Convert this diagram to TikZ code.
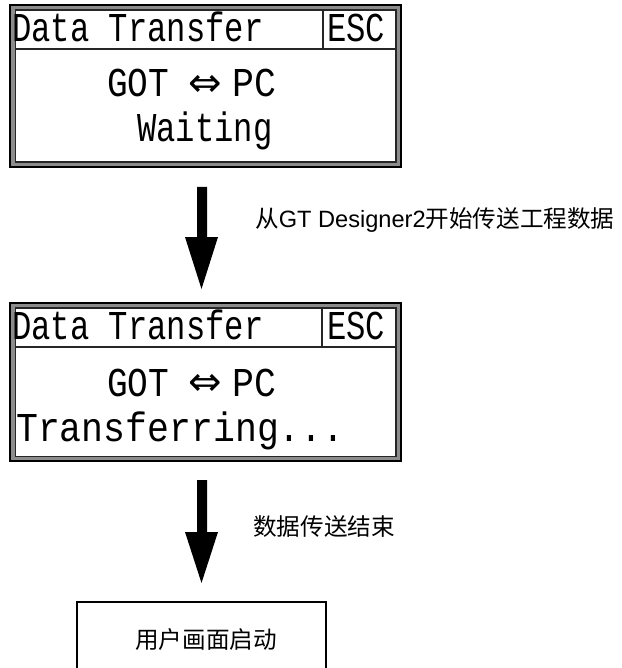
\documentclass[tikz,border=0pt]{standalone}
\usepackage{fontspec}
\setmainfont{Liberation Sans}
\newfontfamily\cjk{Noto Sans CJK SC}
\newfontfamily\lcd[FakeStretch=0.786]{Liberation Mono}
\newfontfamily\lcdwide[FakeStretch=0.84]{Liberation Mono}
\newfontfamily\lcdwider[FakeStretch=0.89]{Liberation Mono}
\newfontfamily\arrfont{DejaVu Sans}
\begin{document}
\begin{tikzpicture}[x=1pt,y=-1pt,
  lcdtxt/.style={inner sep=0pt,anchor=base west,font=\lcd\fontsize{41}{41}\selectfont},
  lcdwidetxt/.style={inner sep=0pt,anchor=base west,font=\lcdwide\fontsize{41}{41}\selectfont},
  lcdwidertxt/.style={inner sep=0pt,anchor=base west,font=\lcdwider\fontsize{41}{41}\selectfont},
  arrtxt/.style={inner sep=0pt,font=\arrfont\fontsize{40}{40}\selectfont},
  lbl/.style={inner sep=0pt,anchor=west,font=\fontsize{23.6}{23.6}\selectfont},
  outerframe/.style={draw=black,line width=2.5pt,fill=black!45},
  innerframe/.style={draw=black!85,line width=1.6pt,fill=white},
  sepline/.style={draw=black!85,line width=1.6pt},
  blockarrow/.style={fill=black},
  plainbox/.style={draw=black,line width=2pt}]
\useasboundingbox (0,0) rectangle (621,668);
\clip (0,0) rectangle (621,668);

% ---------- screen 1 ----------
\draw[outerframe] (10,5) rectangle (401,167);
\draw[innerframe] (15.5,10) rectangle (396,162);
\draw[sepline] (15.5,49) -- (396,49);
\draw[sepline] (323,10) -- (323,49);
\node[lcdtxt] (t1) at (12,42) {Data Transfer};
\node[lcdtxt] (e1) at (327,42) {ESC};
\node[lcdwidetxt] (g1) at (107,97) {GOT};
\node[arrtxt] (a1) at (205,86) {⇔};
\node[lcdwidertxt] (p1) at (232,97) {PC};
\node[lcdtxt] (w1) at (137,142) {Waiting};

% ---------- arrow 1 ----------
\fill[blockarrow] (197,187) -- (207,187) -- (207,237) -- (218,237) -- (201.5,289) -- (185,237) -- (197,237) -- cycle;
\node[lbl] (l1) at (255,220) {{\cjk 从}GT Designer2{\cjk 开始传送工程数据}};

% ---------- screen 2 ----------
\draw[outerframe] (10,303) rectangle (401,461);
\draw[innerframe] (15.5,308) rectangle (396,456.5);
\draw[sepline] (15.5,347) -- (396,347);
\draw[sepline] (322,308) -- (322,347);
\node[lcdtxt] (t2) at (12,339) {Data Transfer};
\node[lcdtxt] (e2) at (327,339) {ESC};
\node[lcdwidetxt] (g2) at (107,396) {GOT};
\node[arrtxt] (a2) at (205,385) {⇔};
\node[lcdwidertxt] (p2) at (232,396) {PC};
\node[lcdwidertxt] (w2) at (16,441) {Transferring...};

% ---------- arrow 2 ----------
\fill[blockarrow] (197,480) -- (207,480) -- (207,532) -- (218,532) -- (201.5,583) -- (185,532) -- (197,532) -- cycle;
\node[lbl] (l2) at (253,527) {\cjk 数据传送结束};

% ---------- final box ----------
\draw[plainbox] (77,602) rectangle (326,690);
\node[lbl,anchor=center] (u) at (206,640) {\cjk 用户画面启动};
\end{tikzpicture}
\end{document}
